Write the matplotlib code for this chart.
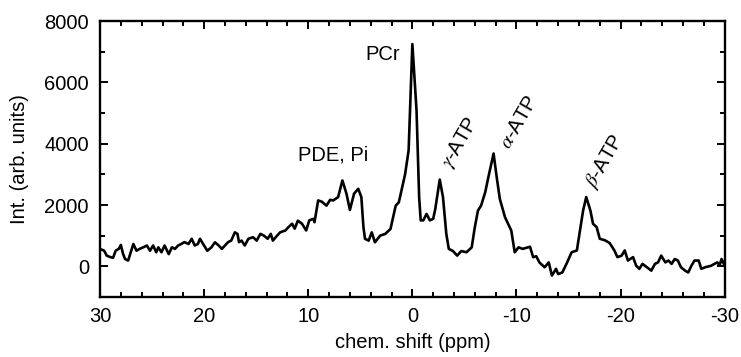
import matplotlib
matplotlib.use("Agg")
import matplotlib.pyplot as plt
from matplotlib.ticker import MultipleLocator

plt.rcParams['font.family'] = ['Liberation Sans', 'DejaVu Sans']
plt.rcParams['mathtext.fontset'] = 'stix'

# 31P spectrum: chemical shift (ppm) and intensity (arb. units)
shift_ppm = [
    30.0, 29.6, 29.36, 29.0, 28.75, 28.5, 28.2, 28.0, 27.8, 27.6, 27.3, 27.0,
    26.8, 26.5, 26.2, 25.85, 25.5, 25.2, 24.9, 24.6, 24.4, 24.1, 23.8, 23.4,
    23.1, 22.8, 22.5, 22.2, 21.9, 21.5, 21.2, 20.9, 20.6, 20.4, 20.1, 19.7,
    19.3, 18.96, 18.6, 18.3, 18.0, 17.7, 17.4, 17.05, 16.8, 16.65, 16.4, 16.1,
    15.75, 15.3, 14.95, 14.6, 14.25, 13.9, 13.6, 13.4, 13.0, 12.7, 12.2, 11.9,
    11.55, 11.3, 11.0, 10.6, 10.2, 9.9, 9.5, 9.4, 9.05, 8.7, 8.25, 7.9, 7.6,
    7.13, 6.72, 6.33, 6.0, 5.6, 5.2, 4.9, 4.7, 4.55, 4.2, 3.9, 3.6, 3.1, 2.6,
    2.1, 1.6, 1.3, 0.98, 0.7, 0.36, 0.2, 0.0, -0.4, -0.65, -0.8, -1.05, -1.36,
    -1.68, -2.0, -2.2, -2.63, -2.94, -3.26, -3.5, -3.9, -4.3, -4.7, -5.2, -5.7,
    -6.0, -6.3, -6.6, -7.0, -7.3, -7.8, -8.1, -8.4, -8.9, -9.5, -9.83, -10.2,
    -10.6, -11.3, -11.6, -11.9, -12.2, -12.7, -13.1, -13.4, -13.8, -14.0,
    -14.4, -14.8, -15.3, -15.8, -16.1, -16.4, -16.7, -17.1, -17.35, -17.7,
    -18.0, -18.5, -18.95, -19.4, -19.7, -20.1, -20.4, -20.7, -21.2, -21.5,
    -21.8, -22.1, -22.5, -22.95, -23.3, -23.6, -23.9, -24.3, -24.6, -24.9,
    -25.2, -25.5, -25.8, -26.2, -26.5, -26.8, -27.1, -27.5, -27.75, -28.2,
    -28.7, -29.0, -29.3, -29.5, -29.7, -30.0,
]
intensity = [
    570, 510, 350, 300, 280, 510, 570, 700, 420, 240, 190, 510,
    730, 510, 570, 620, 680, 510, 680, 460, 620, 460, 680, 400,
    620, 570, 680, 730, 790, 730, 900, 680, 730, 900, 730, 510,
    620, 785, 680, 570, 680, 790, 840, 1110, 1060, 790, 840, 680,
    900, 950, 840, 1060, 1000, 900, 1060, 840, 1000, 1110, 1170, 1280,
    1390, 1230, 1490, 1390, 1170, 1500, 1550, 1440, 2150, 2110, 1980, 2170, 2150,
    2260, 2800, 2370, 1840, 2370, 2530, 2260, 1280, 900, 840, 1110, 785, 1000, 1060,
    1220, 1980, 2090, 2580, 3000, 3780, 5310, 7250, 5090, 2260, 1500, 1500, 1710,
    1500, 1550, 1870, 2830, 2260, 1060, 570, 500, 350, 500, 460, 620,
    1280, 1820, 1980, 2420, 2910, 3680, 2910, 2200, 1600, 1170, 460, 620,
    570, 640, 300, 330, 130, -30, 130, -300, -80, -250,
    -200, 80, 460, 520, 1170, 1820, 2260, 1820, 1390, 1280,
    900, 850, 760, 520, 300, 350, 520, 190, 300, 20,
    -80, 80, -20, -140, 80, 130, 350, 130, 190, 80,
    240, 190, -30, -140, -200, 20, 190, 190, -80, -20,
    20, 80, 130, 20, 240, 20,
]

# Peak annotations
peak_labels = ["PCr", "PDE, Pi", r"$\gamma$-ATP", r"$\alpha$-ATP", r"$\beta$-ATP"]
label_x = [4.5, 11.0, -4.55, -10.2, -18.5]
label_y = [6900, 3620, 4040, 4700, 3420]
label_rot = [0, 0, 60, 60, 60]

FS = 14.5

fig = plt.figure(figsize=(7.41, 3.57), dpi=100)
ax = fig.add_axes([0.135, 0.168, 0.843, 0.773])

ax.plot(shift_ppm, intensity, color='black', lw=1.9)

ax.set_xlim(30, -30)
ax.set_ylim(-1000, 8000)
ax.xaxis.set_major_locator(MultipleLocator(10))
ax.xaxis.set_minor_locator(MultipleLocator(2))
ax.yaxis.set_major_locator(MultipleLocator(2000))
ax.yaxis.set_minor_locator(MultipleLocator(1000))
ax.set_xticks([30, 20, 10, 0, -10, -20, -30])
ax.set_xticklabels(["30", "20", "10", "0", "-10", "-20", "-30"])

ax.tick_params(which='both', direction='in', top=True, right=True,
               width=1.4, labelsize=FS)
ax.tick_params(axis='y', pad=8)
ax.tick_params(axis='x', pad=7)
ax.tick_params(which='major', length=6)
ax.tick_params(which='minor', length=3.5)
for sp in ax.spines.values():
    sp.set_linewidth(1.7)

ax.set_xlabel("chem. shift (ppm)", fontsize=FS, labelpad=5)
ax.set_ylabel("Int. (arb. units)", fontsize=FS, labelpad=11)

for txt, x, y, rot in zip(peak_labels, label_x, label_y, label_rot):
    if rot == 0:
        ax.text(x, y, txt, fontsize=FS, ha='left', va='center')
    else:
        ax.text(x, y, txt, fontsize=FS, ha='center', va='center',
                rotation=rot)

fig.savefig("out.png", dpi=100)
